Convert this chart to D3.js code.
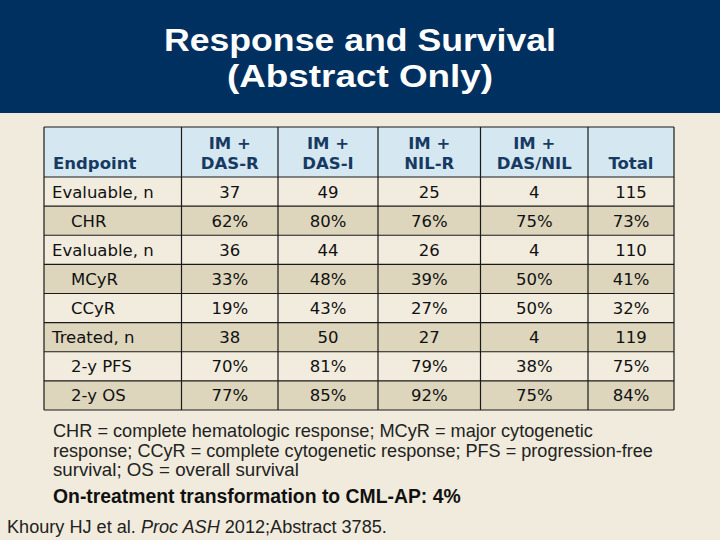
<!DOCTYPE html>
<html><head><meta charset="utf-8">
<script src="https://cdn.jsdelivr.net/npm/d3@7"></script>
<style>html,body{margin:0;padding:0;background:#F0EBDC;}svg{display:block}</style>
</head><body>
<svg id="c" width="720" height="540"></svg>
<script>
const titleLines = ["Response and Survival", "(Abstract Only)"];
const headerTop = ["", "IM +", "IM +", "IM +", "IM +", ""];
const headerBottom = ["Endpoint", "DAS-R", "DAS-I", "NIL-R", "DAS/NIL", "Total"];
const rowLabels = ["Evaluable, n", "CHR", "Evaluable, n", "MCyR", "CCyR", "Treated, n", "2-y PFS", "2-y OS"];
const rowIndent = [0, 1, 0, 1, 1, 0, 1, 1];
const dasR   = ["37", "62%", "36", "33%", "19%", "38", "70%", "77%"];
const dasI   = ["49", "80%", "44", "48%", "43%", "50", "81%", "85%"];
const nilR   = ["25", "76%", "26", "39%", "27%", "27", "79%", "92%"];
const dasNil = ["4", "75%", "4", "50%", "50%", "4", "38%", "75%"];
const total  = ["115", "73%", "110", "41%", "32%", "119", "75%", "84%"];
const footLines = [
  "CHR = complete hematologic response; MCyR = major cytogenetic",
  "response; CCyR = complete cytogenetic response; PFS = progression-free",
  "survival; OS = overall survival"
];
const boldNote = "On-treatment transformation to CML-AP: 4%";

const svg = d3.select("#c");
svg.append("rect").attr("width",720).attr("height",540).attr("fill","#F0EBDC");
svg.append("rect").attr("width",720).attr("height",113).attr("fill","#00305F");

function fit(t, w){ const l=t.node().getComputedTextLength(); const fs=parseFloat(t.attr("font-size")); t.attr("font-size", fs*w/l); }

const tfont = "'Liberation Sans', Arial, sans-serif";
const tW = [392, 266], tY = [51, 87];
titleLines.forEach((l,i)=>{
  svg.append("text").attr("x",360).attr("y",tY[i]).attr("text-anchor","middle").attr("fill","#fff")
    .attr("font-family",tfont).attr("font-weight","bold").attr("font-size",31)
    .attr("textLength",tW[i]).attr("lengthAdjust","spacingAndGlyphs").text(l);
});

// table
const colEdges = [44, 181.5, 278, 378, 480.5, 588, 674];
const cols = [rowLabels, dasR, dasI, nilR, dasNil, total];
const tableTop = 127, headBottom = 177, tableBottom = 410;
const y = d3.scaleBand().domain(d3.range(rowLabels.length)).range([headBottom, tableBottom]);
const bfont = "'DejaVu Sans', Verdana, sans-serif";

svg.append("rect").attr("x",colEdges[0]).attr("y",tableTop).attr("width",colEdges[6]-colEdges[0])
  .attr("height",headBottom-tableTop).attr("fill","#D5E7F0");
svg.selectAll("rect.row").data(rowLabels).join("rect").attr("class","row")
  .attr("x",colEdges[0]).attr("width",colEdges[6]-colEdges[0])
  .attr("y",(d,i)=>y(i)).attr("height",y.bandwidth())
  .attr("fill",(d,i)=> i%2 ? "#DDD6BD" : "#F1ECDE");

// header text
headerBottom.forEach((h,j)=>{
  const cx = j===0 ? colEdges[0]+9 : (colEdges[j]+colEdges[j+1])/2;
  const anchor = j===0 ? "start" : "middle";
  if (headerTop[j]) svg.append("text").attr("x",cx).attr("y",149).attr("text-anchor",anchor)
    .attr("font-family",bfont).attr("font-weight","bold").attr("font-size",16.5).attr("fill","#163A62").text(headerTop[j]);
  svg.append("text").attr("x",cx).attr("y",169).attr("text-anchor",anchor)
    .attr("font-family",bfont).attr("font-weight","bold").attr("font-size",16.5).attr("fill","#163A62").text(h);
});

// body text
cols.forEach((col,j)=>{
  svg.selectAll("text.c"+j).data(col).join("text").attr("class","c"+j)
    .attr("x",(d,i)=> j===0 ? colEdges[0]+ (rowIndent[i]? 27 : 8) : (colEdges[j]+colEdges[j+1])/2)
    .attr("y",(d,i)=>y(i)+y.bandwidth()/2+6)
    .attr("text-anchor", j===0 ? "start" : "middle")
    .attr("font-family",bfont).attr("font-size",16.5).attr("fill","#111").text(d=>d);
});

// grid lines
const g = svg.append("g").attr("stroke","#1a1a1a").attr("stroke-width",1.2);
colEdges.forEach(x=> g.append("line").attr("x1",x).attr("x2",x).attr("y1",tableTop).attr("y2",tableBottom));
[tableTop, headBottom, ...d3.range(1,rowLabels.length).map(i=>y(i)), tableBottom].forEach(yy=>
  g.append("line").attr("x1",colEdges[0]).attr("x2",colEdges[6]).attr("y1",yy).attr("y2",yy));

// footnotes
const ffont = "'Liberation Sans', Arial, sans-serif";
const fy = [437, 457, 476];
const fw = [540, 600, 246];
footLines.forEach((l,i)=>{
  const t = svg.append("text").attr("x",53).attr("y",fy[i]).attr("font-family",ffont).attr("font-size",16)
    .attr("fill","#222").text(l);
  fit(t, fw[i]);
});
const bn = svg.append("text").attr("x",53).attr("y",503).attr("font-family",ffont).attr("font-weight","bold")
  .attr("font-size",17).attr("fill","#111").text(boldNote);
fit(bn, 408);
const cit = svg.append("text").attr("x",7).attr("y",533).attr("font-family",ffont).attr("font-size",16).attr("fill","#222");
cit.append("tspan").text("Khoury HJ et al. ");
cit.append("tspan").attr("font-style","italic").text("Proc ASH");
cit.append("tspan").text(" 2012;Abstract 3785.");
fit(cit, 380);
</script>
</body></html>
